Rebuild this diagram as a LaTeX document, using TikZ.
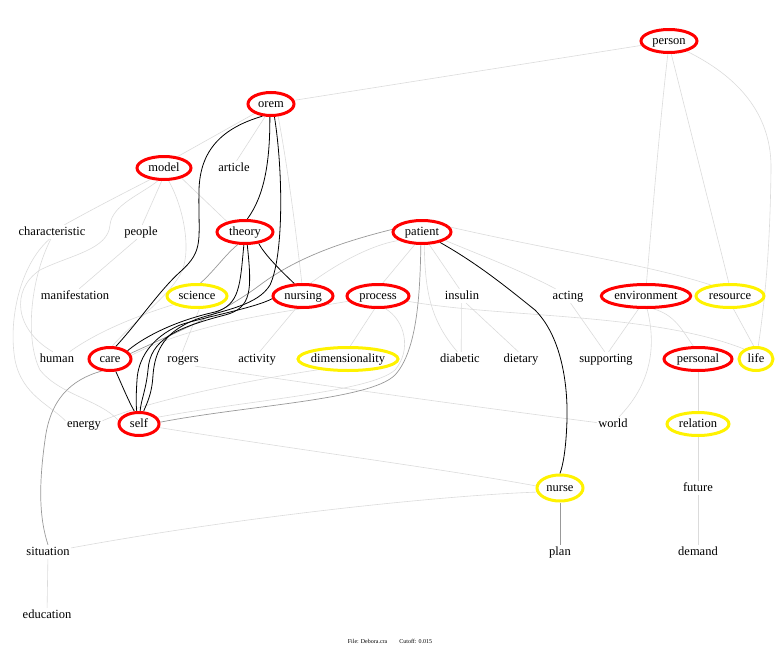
\documentclass[tikz,border=0pt]{standalone}
\usepackage{fontspec}
\setmainfont{Liberation Serif}
\usetikzlibrary{shapes.geometric,backgrounds}
\begin{document}
\begin{tikzpicture}[x=1pt,y=-1pt,
  every node/.style={font=\fontsize{12.5}{14}\selectfont,text height=8.5pt,text depth=2.5pt},
  rn/.style={ellipse,draw=red,fill=white,line width=3pt,inner sep=0pt,minimum height=23pt},
  yn/.style={ellipse,draw=yellow,fill=white,line width=3pt,inner sep=0pt,minimum height=23pt},
  tn/.style={inner sep=1.5pt},
  le/.style={draw=black!14,line width=0.6pt},
  me/.style={draw=black!40,line width=0.7pt},
  ke/.style={draw=black,line width=0.8pt}]
\useasboundingbox (0,0) rectangle (780,656);
% nodes
\node[rn,minimum width=56] (person) at (669,41) {person};
\node[rn,minimum width=46] (orem) at (271,104) {orem};
\node[rn,minimum width=54] (model) at (164,168) {model};
\node[tn] (article) at (234,168) {article};
\node[tn] (characteristic) at (52,232) {characteristic};
\node[tn] (people) at (141,232) {people};
\node[rn,minimum width=56] (theory) at (245,232) {theory};
\node[rn,minimum width=58] (patient) at (422,232) {patient};
\node[tn] (manifestation) at (75,296) {manifestation};
\node[yn,minimum width=60] (science) at (197,296) {science};
\node[rn,minimum width=60] (nursing) at (303,296) {nursing};
\node[rn,minimum width=62] (process) at (378,296) {process};
\node[tn] (insulin) at (462,296) {insulin};
\node[tn] (acting) at (568,296) {acting};
\node[rn,minimum width=88] (environment) at (646,296) {environment};
\node[yn,minimum width=68] (resource) at (730,296) {resource};
\node[tn] (human) at (57,359) {human};
\node[rn,minimum width=42] (care) at (110,359) {care};
\node[tn] (rogers) at (183,359) {rogers};
\node[tn] (activity) at (257,359) {activity};
\node[yn,minimum width=100,inner xsep=-5pt] (dimensionality) at (348,359) {dimensionality};
\node[tn] (diabetic) at (460,359) {diabetic};
\node[tn] (dietary) at (521,359) {dietary};
\node[tn] (supporting) at (606,359) {supporting};
\node[rn,minimum width=68] (personal) at (698,359) {personal};
\node[yn,minimum width=34] (life) at (756,359) {life};
\node[tn] (energy) at (84,424) {energy};
\node[rn,minimum width=40] (self) at (139,424) {self};
\node[tn] (world) at (613,424) {world};
\node[yn,minimum width=62] (relation) at (698,424) {relation};
\node[yn,minimum width=46,minimum height=26] (nurse) at (560,488) {nurse};
\node[tn] (future) at (698,488) {future};
\node[tn] (situation) at (48,552) {situation};
\node[tn] (plan) at (560,552) {plan};
\node[tn] (demand) at (698,552) {demand};
\node[tn] (education) at (47,615) {education};
\node[font=\fontsize{6}{7}\selectfont,text height=4pt,text depth=1pt] (footer) at (390,642) {File: Debora.cra\qquad Cutoff: 0.015};
% edges
\begin{scope}[on background layer]
% light edges
\draw[le] (person) -- (orem);
\draw[le] (person.265) .. controls (660,120) and (652,220) .. (environment.88);
\draw[le] (person.280) -- (resource.95);
\draw[le] (person.330) .. controls (745,80) and (772,120) .. (771,170) .. controls (770,250) and (765,300) .. (life.80);
\draw[le] (orem.210) -- (model.40);
\draw[le] (orem.245) -- (article.70);
\draw[le] (orem.300) .. controls (290,180) and (298,250) .. (nursing.95);
\draw[le] (model.220) .. controls (130,190) and (100,205) .. (characteristic.30);
\draw[le] (model.260) -- (people.80);
\draw[le] (model.330) -- (theory.150);
\draw[le] (model.245) .. controls (140,195) and (112,205) .. (110,225) .. controls (108,250) and (70,255) .. (40,270) .. controls (10,290) and (15,330) .. (human.120);
\draw[le] (model.290) .. controls (185,210) and (192,255) .. (180,275) .. controls (165,300) and (135,320) .. (care.80);
\draw[le] (people.240) -- (manifestation.60);
\draw[le] (characteristic.250) .. controls (20,265) and (8,320) .. (15,360) .. controls (22,395) and (50,405) .. (energy.170);
\draw[le] (characteristic.260) .. controls (30,280) and (25,340) .. (40,370) .. controls (60,395) and (100,400) .. (self.170);
\draw[le] (science.200) .. controls (140,315) and (100,330) .. (human.30);
\draw[le] (science.280) -- (rogers.95);
\draw[le] (nursing.240) -- (activity.70);
\draw[le] (process.190) .. controls (300,310) and (200,320) .. (care.10);
\draw[le] (process.255) -- (dimensionality.80);
\draw[le] (process.300) .. controls (405,320) and (412,350) .. (395,370) .. controls (370,392) and (250,400) .. (self.20);
\draw[le] (process.350) .. controls (500,318) and (650,312) .. (life.140);
\draw[le] (patient.200) .. controls (370,245) and (335,265) .. (nursing.60);
\draw[le] (patient.240) -- (process.70);
\draw[le] (patient.300) -- (insulin.110);
\draw[le] (patient.280) .. controls (425,290) and (430,320) .. (diabetic.110);
\draw[le] (patient.340) .. controls (480,255) and (520,270) .. (acting.150);
\draw[le] (patient.10) .. controls (550,250) and (650,265) .. (resource.150);
\draw[le] (insulin.265) -- (diabetic.80);
\draw[le] (insulin.300) -- (dietary.110);
\draw[le] (acting.290) -- (supporting.100);
\draw[le] (environment.240) -- (supporting.70);
\draw[le] (environment.300) .. controls (675,315) and (682,330) .. (personal.110);
\draw[le] (environment.275) .. controls (655,340) and (655,380) .. (world.50);
\draw[le] (resource.285) -- (life.100);
\draw[le] (personal) -- (relation);
\draw[le] (relation) -- (future);
\draw[le] (future) -- (demand);
\draw[le] (rogers.330) .. controls (350,390) and (500,410) .. (world.175);
\draw[le] (dimensionality.200) .. controls (250,380) and (150,400) .. (energy.10);
\draw[le] (self.350) .. controls (300,450) and (450,470) .. (nurse.175);
\draw[le] (situation.10) .. controls (250,515) and (450,495) .. (nurse.190);
\draw[le] (situation) -- (education);
% medium edges
\draw[me] (patient.175) .. controls (350,240) and (300,255) .. (260,285) .. controls (220,315) and (170,335) .. (care.15);
\draw[me] (patient.265) .. controls (420,290) and (418,350) .. (395,375) .. controls (370,400) and (250,405) .. (self.5);
\draw[me] (theory.240) .. controls (225,255) and (215,270) .. (science.75);
\draw[me] (care.235) .. controls (70,380) and (50,400) .. (45,440) .. controls (38,490) and (40,520) .. (situation.north);
\draw[me] (nurse) -- (plan);
% strong edges
\draw[ke] (orem.235) .. controls (222,128) and (200,150) .. (199,190) .. controls (198,240) and (205,250) .. (180,272) .. controls (160,290) and (140,320) .. (care.65);
\draw[ke] (orem.265) .. controls (270,160) and (265,195) .. (theory.80);
\draw[ke] (orem.285) .. controls (283,170) and (284,255) .. (270,285) .. controls (258,305) and (225,310) .. (200,318) .. controls (165,330) and (155,350) .. (153,375) .. controls (152,395) and (146,405) .. (self.70);
\draw[ke] (theory.265) .. controls (240,285) and (240,305) .. (215,312) .. controls (170,322) and (140,340) .. (care.25);
\draw[ke] (theory.280) .. controls (252,290) and (252,308) .. (225,315) .. controls (175,328) and (150,340) .. (148,370) .. controls (146,390) and (141,400) .. (self.85);
\draw[ke] (nursing.185) .. controls (255,308) and (200,318) .. (180,325) .. controls (150,338) and (138,360) .. (137,380) .. controls (136,395) and (136,405) .. (self.100);
\draw[ke] (theory.320) .. controls (265,255) and (280,270) .. (nursing.125);
\draw[ke] (care.295) .. controls (122,385) and (128,400) .. (self.110);
\draw[ke] (patient.330) .. controls (480,265) and (510,290) .. (535,310) .. controls (560,335) and (568,380) .. (567,420) .. controls (566,450) and (563,465) .. (nurse.north);
\end{scope}
\end{tikzpicture}
\end{document}
